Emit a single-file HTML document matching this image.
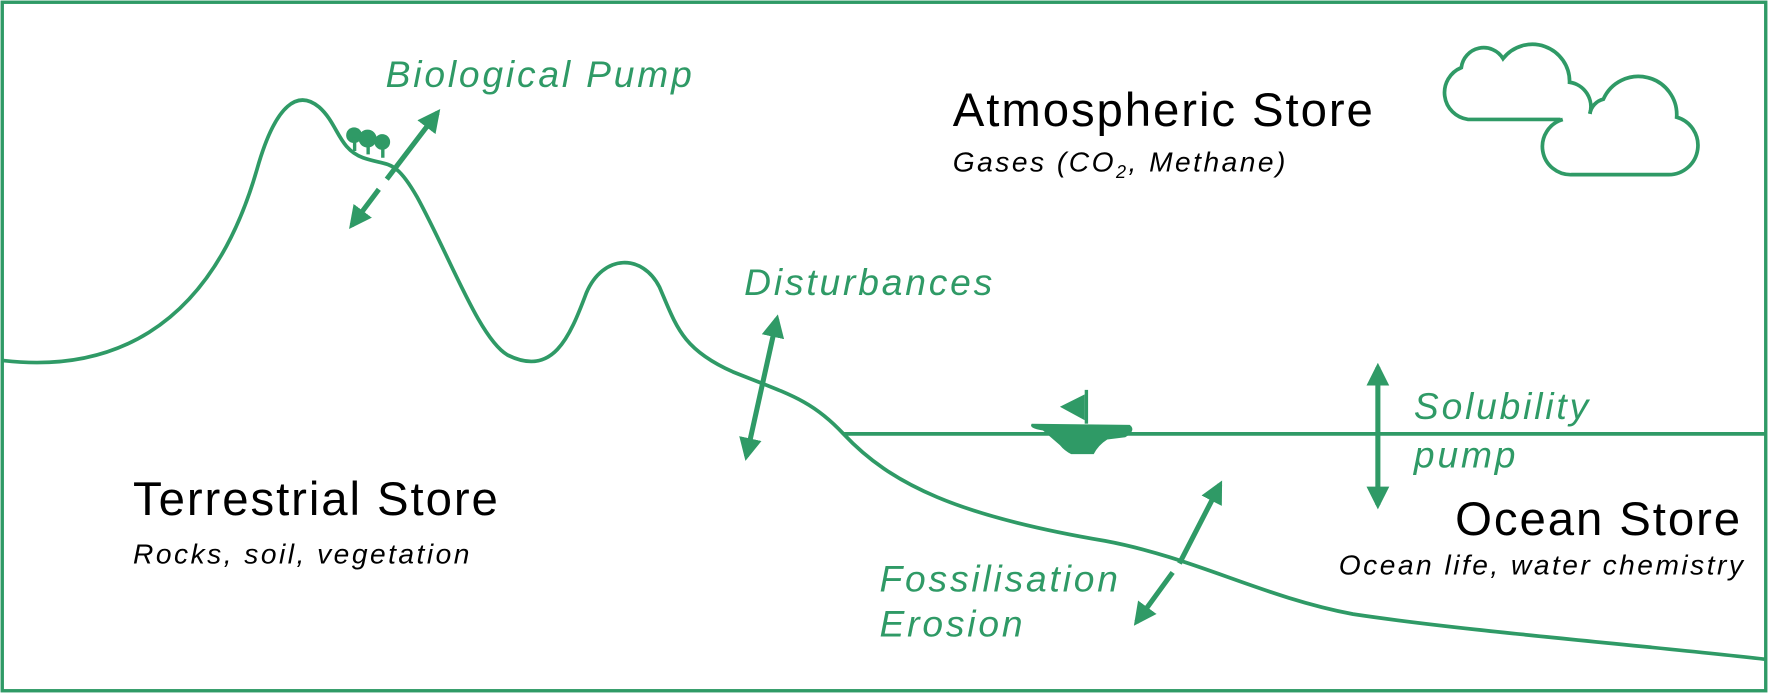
<!DOCTYPE html>
<html><head><meta charset="utf-8"><style>
html,body{margin:0;padding:0;background:#fff;}
svg{display:block}
text{font-family:"Liberation Sans",sans-serif}
.g{fill:#2f9a66;font-style:italic;font-size:33px;letter-spacing:2.5px}
.b{fill:#000;font-size:42px;letter-spacing:1.7px}
.s{fill:#000;font-style:italic;font-size:25px;letter-spacing:2.2px}
</style></head><body>
<svg width="1768" height="693" viewBox="0 0 1568 615" preserveAspectRatio="none">
<defs><marker id="ah" viewBox="0 0 10 10" refX="8" refY="5" markerWidth="4.5" markerHeight="4.5" orient="auto-start-reverse"><path d="M0,0 L10,5 L0,10 z" fill="#2f9a66"/></marker></defs>
<rect x="2" y="2" width="1564" height="611" fill="none" stroke="#2f9a66" stroke-width="3"/>
<g fill="none" stroke="#2f9a66" stroke-width="3.3">
<path d="M3,320 C90,330 185,300 228,150 C245,90 265,80 283,95 C300,110 300,132 322,140 C345,148 350,140 370,175 C400,230 425,300 450,315 C490,335 505,300 520,260 C535,225 570,225 585,255 C600,290 605,310 650,330 C700,350 720,355 748,385 C790,430 850,458 980,480 C1060,495 1120,530 1200,545 C1300,560 1450,572 1565,585"/>
<line x1="748" y1="385" x2="1566" y2="385"/>
<path d="M1384,106 H1302 A24,24 0 0 1 1296,60 A20,20 0 0 1 1333,52 A33,33 0 0 1 1392,73 A22,22 0 0 1 1410,101"/>
<path d="M1386,106 A25,25 0 0 0 1394,155 H1480 A26,26 0 0 0 1487,104 A34,34 0 0 0 1422,88 A16,16 0 0 0 1410,101"/>
</g>
<g stroke="#2f9a66" stroke-width="4.5" fill="none">
<line x1="312" y1="200" x2="336" y2="168" marker-start="url(#ah)"/>
<line x1="343" y1="159" x2="388" y2="100" marker-end="url(#ah)"/>
<line x1="662" y1="405" x2="689" y2="283" marker-start="url(#ah)" marker-end="url(#ah)"/>
<line x1="1222" y1="326" x2="1222" y2="448" marker-start="url(#ah)" marker-end="url(#ah)"/>
<line x1="1008" y1="552" x2="1040" y2="508" marker-start="url(#ah)"/>
<line x1="1046" y1="500" x2="1082" y2="430" marker-end="url(#ah)"/>
</g>
<g fill="#2f9a66">
<circle cx="314" cy="120" r="7"/><circle cx="326" cy="123" r="8"/><circle cx="339" cy="126" r="7"/>
<rect x="313" y="122" width="3" height="12"/><rect x="325" y="124" width="3" height="13"/><rect x="338" y="127" width="3" height="13"/>
<path d="M915,376 L1002,377 Q1008,382 998,388 L982,390 Q974,395 970,403 L950,403 Q944,400 940,395 L925,382 Q912,380 915,376z"/>
<path d="M962,346 L965,346 L965,376 L962,376z"/><path d="M962,350 L940,361 L962,373z"/>
</g>
<text class="g" x="342" y="77">Biological Pump</text>
<text class="g" x="660" y="262">Disturbances</text>
<text class="g" x="1254" y="372">Solubility</text>
<text class="g" x="1254" y="415">pump</text>
<text class="g" x="780" y="525">Fossilisation</text>
<text class="g" x="780" y="565">Erosion</text>
<text class="b" x="845" y="112">Atmospheric Store</text>
<text class="s" x="845" y="152">Gases (CO<tspan font-size="16" dy="6">2</tspan><tspan dy="-6">, Methane)</tspan></text>
<text class="b" x="118" y="457">Terrestrial Store</text>
<text class="s" x="118" y="500">Rocks, soil, vegetation</text>
<text class="b" x="1545" y="475" text-anchor="end">Ocean Store</text>
<text class="s" x="1548" y="510" text-anchor="end">Ocean life, water chemistry</text>
</svg>
</body></html>
